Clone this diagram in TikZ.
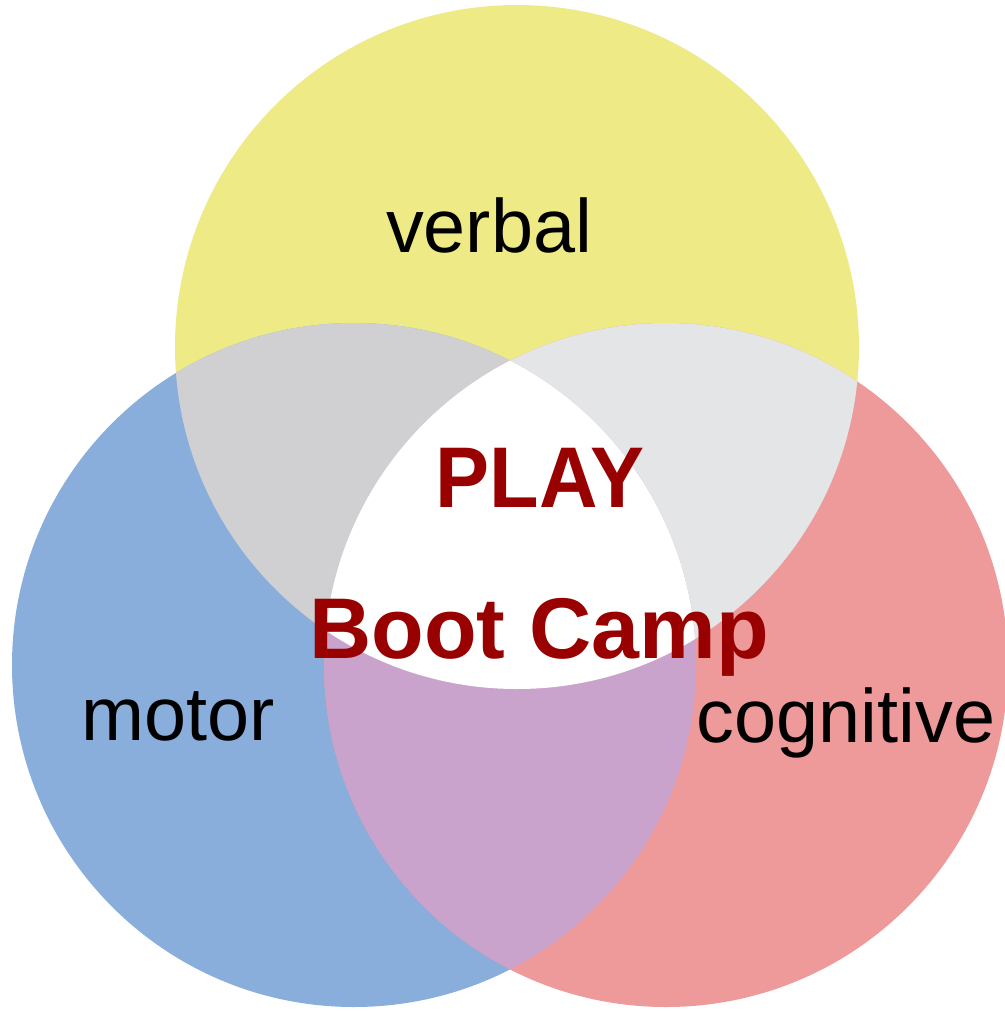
\documentclass[tikz,border=0pt]{standalone}
\usepackage{fontspec}
\setmainfont{Liberation Sans}
\definecolor{verbalfill}{HTML}{EEEB87}
\definecolor{motorfill}{HTML}{89AEDC}
\definecolor{cogfill}{HTML}{EE999A}
\definecolor{vmfill}{HTML}{D0D0D2}
\definecolor{vcfill}{HTML}{E4E5E7}
\definecolor{mcfill}{HTML}{C9A3CC}
\definecolor{playred}{HTML}{990000}
\tikzset{
  label/.style={anchor=base, inner sep=0pt, font=\fontsize{21.5}{26}\selectfont},
  title/.style={anchor=base, inner sep=0pt, text=playred, font=\fontsize{24.5}{29}\selectfont\bfseries}
}
\begin{document}
\begin{tikzpicture}[x=0.01cm, y=-0.01cm]
\useasboundingbox (0,0) rectangle (1005,1011);
\def\rad{342}
\coordinate (v) at (517,347);
\coordinate (m) at (354,665);
\coordinate (c) at (666,665);
\fill [verbalfill] (v) circle (\rad);
\fill [motorfill] (m) circle (\rad);
\fill [cogfill] (c) circle (\rad);
\begin{scope}
  \clip (v) circle (\rad);
  \fill [vmfill] (m) circle (\rad);
  \fill [vcfill] (c) circle (\rad);
\end{scope}
\begin{scope}
  \clip (m) circle (\rad);
  \fill [mcfill] (c) circle (\rad);
  \clip (c) circle (\rad);
  \fill [white] (v) circle (\rad);
\end{scope}
\node (verbal) [label] at (489,252) {verbal};
\node (motor) [label] at (178,740) {motor};
\node (cognitive) [label] at (846,742) {cognitive};
\node (play) [title, xscale=0.94] at (540,507) {PLAY};
\node (camp) [title] at (539,658) {Boot Camp};
\end{tikzpicture}
\end{document}
